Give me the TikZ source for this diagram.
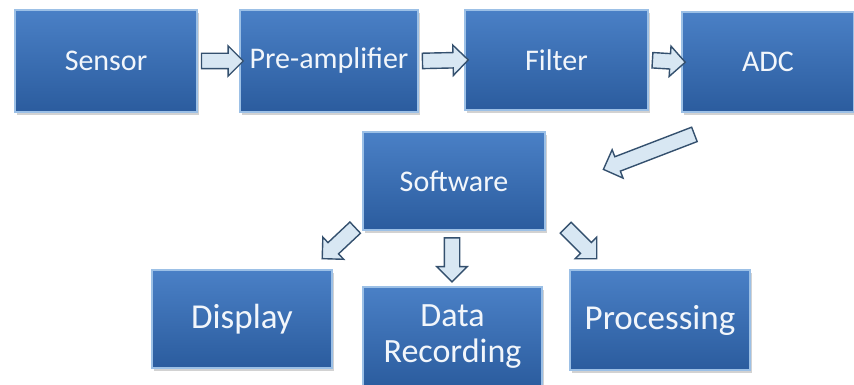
\documentclass[tikz,border=0pt]{standalone}
\usepackage{fontspec}
\setmainfont{Carlito}
\usetikzlibrary{shapes.arrows,calc,shadows}
\definecolor{boxtop}{HTML}{4A80C6}
\definecolor{boxbot}{HTML}{2B5C9E}
\definecolor{boxedge}{HTML}{9CC0E6}
\definecolor{arrowfill}{HTML}{D8E7F3}
\definecolor{arrowline}{HTML}{34506E}
\definecolor{boxtext}{HTML}{F2F6FB}
\tikzset{
  blockbox/.style={rectangle, top color=boxtop, bottom color=boxbot, draw=boxedge, line width=1.2pt,
    text=boxtext, align=center, inner sep=2pt,
    drop shadow={shadow xshift=2pt, shadow yshift=-3pt, fill=black!35, opacity=0.5}},
  toptext/.style={font=\fontsize{30}{34}\selectfont},
  bottext/.style={font=\fontsize{35}{36}\selectfont},
  barrow/.style={single arrow, draw=arrowline, fill=arrowfill, line width=1.4pt,
    single arrow head extend=7.5pt, inner sep=7pt, outer sep=0pt}
}
\newcommand\fatarrow[2]{\path let \p1=(#1), \p2=(#2), \n1={atan2(\y2-\y1,\x2-\x1)}, \n2={veclen(\x2-\x1,\y2-\y1)} in node[barrow, minimum height=\n2, rotate=\n1] at ($(#1)!0.5!(#2)$) {};}
\begin{document}
\begin{tikzpicture}[x=1pt,y=-1pt]
\useasboundingbox (0,0) rectangle (854,385);
\node[blockbox,toptext,minimum width=182pt,minimum height=102pt] (sensor) at (106,61) {Sensor};
\node[blockbox,toptext,minimum width=178pt,minimum height=102pt] (pre) at (329,61) {Pre-amplifier};
\node[blockbox,toptext,minimum width=183pt,minimum height=100pt] (filter) at (556.5,60) {Filter};
\node[blockbox,toptext,minimum width=172pt,minimum height=100pt] (adc) at (768,62) {ADC};
\node[blockbox,toptext,minimum width=182pt,minimum height=98pt] (software) at (454,181) {Software};
\node[blockbox,bottext,minimum width=180pt,minimum height=98pt] (display) at (242,319) {Display};
\node[blockbox,bottext,font=\fontsize{34}{36}\selectfont,minimum width=179pt,minimum height=100pt] (data) at (452.5,337) {Data\\Recording};
\node[blockbox,bottext,minimum width=180pt,minimum height=100pt] (proc) at (660,320) {Processing};

\coordinate (a1) at (698,133);
\coordinate (a2) at (607,168);
\coordinate (d1) at (358,225);
\coordinate (d2) at (325,256);
\coordinate (r1) at (452,234);
\coordinate (r2) at (452,278);
\coordinate (p1) at (563,225);
\coordinate (p2) at (594,256);

\fatarrow{sensor.east}{pre.west}
\fatarrow{pre.east}{filter.west}
\fatarrow{filter.east}{adc.west}
\fatarrow{a1}{a2}
\fatarrow{d1}{d2}
\fatarrow{r1}{r2}
\fatarrow{p1}{p2}
\end{tikzpicture}
\end{document}
